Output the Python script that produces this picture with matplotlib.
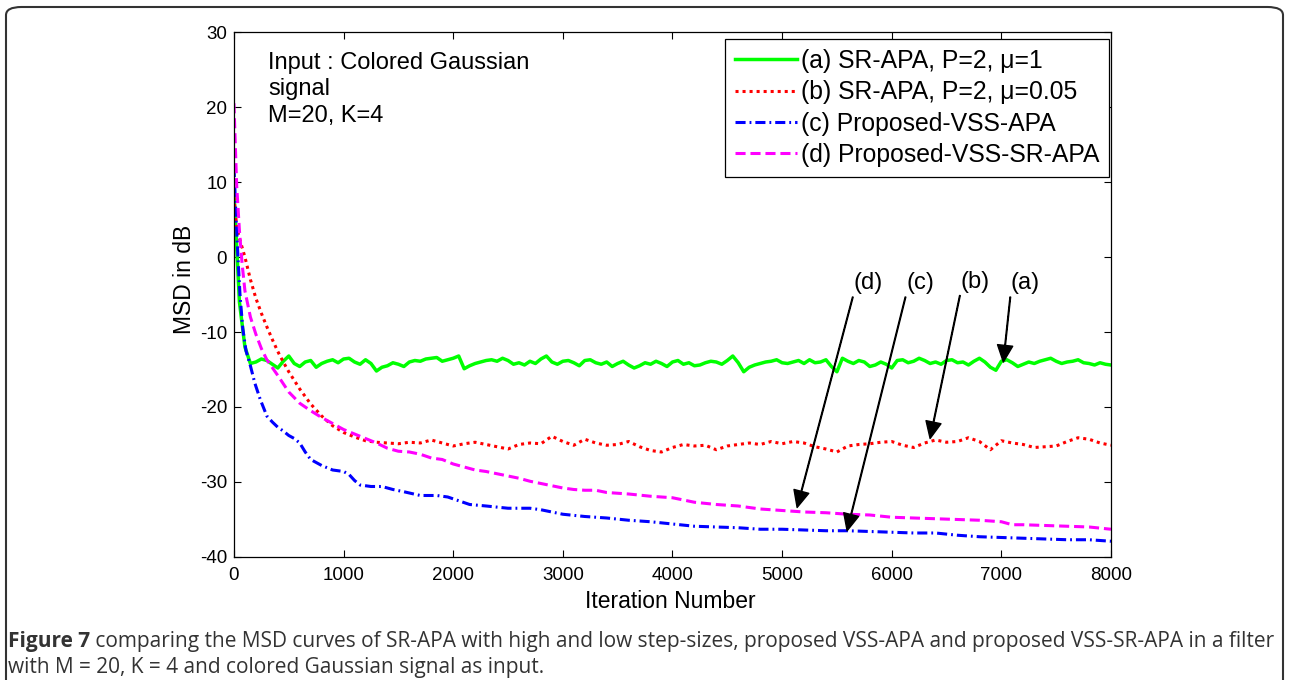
import matplotlib
matplotlib.use("Agg")
import matplotlib.pyplot as plt
from matplotlib.patches import FancyBboxPatch
import numpy as np

plt.rcParams['font.family'] = ['Liberation Sans', 'DejaVu Sans']
plt.rcParams['axes.unicode_minus'] = False

# (a) SR-APA, P=2, mu=1  -- sampled every 50 iterations
it_a = np.arange(0, 8001, 50)
msd_a = [8.5, -6.0, -12.0, -14.2, -14.0, -13.6, -13.8, -14.3, -14.8, -13.9,
         -13.2, -14.2, -14.6, -14.0, -13.8, -14.7, -14.2, -13.9, -13.7, -14.1,
         -13.6, -13.5, -14.0, -14.3, -13.7, -14.2, -15.2, -14.7, -14.5, -14.1,
         -14.3, -14.6, -14.0, -13.8, -13.9, -13.6, -13.5, -13.4, -13.9, -13.7,
         -13.5, -13.2, -14.9, -14.5, -14.2, -14.0, -13.8, -13.7, -13.9, -13.5,
         -13.8, -14.3, -14.1, -14.4, -13.9, -14.2, -13.6, -13.2, -14.0, -14.3,
         -13.9, -13.8, -14.1, -14.5, -13.8, -13.7, -14.1, -14.3, -14.0, -14.6,
         -14.2, -13.9, -14.4, -14.8, -14.5, -14.1, -14.3, -13.9, -14.2, -14.6,
         -14.0, -13.8, -14.3, -14.1, -14.5, -14.4, -14.1, -13.9, -14.0, -14.3,
         -13.8, -13.2, -14.1, -15.3, -14.7, -14.4, -14.2, -14.0, -13.9, -13.7,
         -14.1, -14.2, -14.0, -13.8, -14.2, -13.7, -14.1, -14.0, -13.7, -14.6,
         -15.3, -13.5, -13.9, -14.2, -13.8, -14.0, -14.6, -14.4, -14.0, -14.3,
         -14.8, -13.8, -13.7, -14.1, -13.9, -13.5, -13.8, -14.2, -14.0, -14.3,
         -13.8, -13.7, -14.1, -14.0, -14.4, -13.9, -13.5, -14.0, -14.7, -15.1,
         -13.9, -13.7, -14.1, -14.6, -14.3, -14.0, -14.2, -13.9, -13.7, -13.5,
         -13.9, -14.2, -14.0, -13.9, -13.7, -14.1, -14.2, -14.4, -14.1, -14.3,
         -14.4]

# (b) SR-APA, P=2, mu=0.05
it_b = [0, 25, 50, 100, 150, 200, 250, 300, 350, 400, 450, 500, 600, 700, 800,
        900, 1000, 1100, 1200, 1300, 1400, 1500, 1600, 1700, 1800, 1900, 2000,
        2100, 2200, 2300, 2400, 2500, 2600, 2700, 2800, 2900, 3000, 3100, 3200,
        3300, 3400, 3500, 3600, 3700, 3800, 3900, 4000, 4100, 4200, 4300, 4400,
        4500, 4600, 4700, 4800, 4900, 5000, 5100, 5200, 5300, 5400, 5500, 5600,
        5700, 5800, 5900, 6000, 6100, 6200, 6300, 6400, 6500, 6600, 6700, 6800,
        6900, 7000, 7100, 7200, 7300, 7400, 7500, 7600, 7700, 7800, 7900, 8000]
msd_b = [8.0, 4.0, 2.5, 0.0, -3.0, -5.5, -7.5, -9.3, -11.0, -12.6, -14.0, -15.3,
         -17.6, -19.6, -21.2, -22.5, -23.4, -24.0, -24.5, -24.7, -24.8, -24.9,
         -24.7, -24.8, -24.4, -24.8, -25.2, -24.9, -24.7, -25.0, -25.3, -25.6,
         -25.0, -24.8, -24.9, -23.9, -24.6, -25.1, -24.3, -24.8, -25.1, -25.0,
         -24.6, -25.3, -25.8, -26.0, -25.4, -25.0, -25.2, -25.1, -25.7, -25.2,
         -25.0, -24.8, -25.0, -24.6, -24.9, -24.6, -24.8, -25.3, -25.6, -26.0,
         -25.2, -25.0, -24.9, -24.7, -24.6, -25.1, -25.4, -24.8, -24.4, -24.7,
         -24.6, -24.1, -24.6, -25.7, -24.5, -24.8, -25.0, -25.4, -25.3, -25.2,
         -24.6, -24.1, -24.3, -24.8, -25.1]

# (c) Proposed-VSS-APA
it_c = [0, 20, 40, 55, 80, 110, 150, 190, 240, 300, 350, 400, 450, 500, 550,
        600, 650, 700, 800, 900, 1000, 1050, 1100, 1150, 1250, 1350, 1450, 1550,
        1700, 1850, 1950, 2050, 2150, 2300, 2500, 2700, 2800, 2900, 3000, 3200,
        3400, 3600, 3800, 4000, 4200, 4400, 4600, 4800, 5000, 5200, 5400, 5600,
        5800, 6000, 6200, 6400, 6600, 6800, 7000, 7200, 7400, 7600, 7800, 8000]
msd_c = [12.0, 5.0, -1.0, -5.0, -9.5, -12.5, -14.5, -16.8, -19.0, -21.2, -22.0,
         -22.7, -23.2, -23.8, -24.2, -24.8, -26.0, -27.0, -27.8, -28.4, -28.6,
         -29.0, -29.8, -30.4, -30.6, -30.6, -31.0, -31.3, -31.8, -31.8, -32.0,
         -32.5, -33.0, -33.2, -33.5, -33.5, -33.7, -34.0, -34.3, -34.6, -34.8,
         -35.1, -35.3, -35.6, -35.9, -36.0, -36.1, -36.3, -36.3, -36.4, -36.5,
         -36.5, -36.6, -36.7, -36.8, -36.8, -37.1, -37.3, -37.4, -37.5, -37.6,
         -37.7, -37.7, -37.9]

# (d) Proposed-VSS-SR-APA
it_d = [0, 10, 25, 50, 75, 100, 150, 200, 250, 300, 400, 500, 600, 700, 800,
        900, 1000, 1100, 1200, 1300, 1400, 1500, 1600, 1700, 1800, 1900, 2000,
        2100, 2200, 2300, 2400, 2500, 2600, 2700, 2800, 2900, 3000, 3100, 3200,
        3300, 3400, 3600, 3800, 4000, 4200, 4400, 4600, 4800, 5000, 5200, 5400,
        5600, 5800, 6000, 6200, 6400, 6600, 6800, 7000, 7100, 7200, 7400, 7600,
        7800, 8000]
msd_d = [20.5, 16.0, 9.5, 3.5, -1.0, -4.5, -8.0, -10.3, -12.2, -13.7, -15.8,
         -18.0, -19.5, -20.5, -21.4, -22.2, -23.0, -23.6, -24.2, -24.8, -25.5,
         -25.9, -26.0, -26.3, -26.8, -27.0, -27.6, -28.0, -28.4, -28.6, -28.9,
         -29.2, -29.5, -29.9, -30.2, -30.5, -30.8, -31.0, -31.1, -31.1, -31.4,
         -31.6, -31.9, -32.1, -32.7, -33.0, -33.2, -33.6, -33.8, -34.0, -34.1,
         -34.3, -34.4, -34.7, -34.8, -34.9, -35.0, -35.1, -35.3, -35.7, -35.7,
         -35.8, -35.9, -36.0, -36.3]

labels = ['(a) SR-APA, P=2, \u03bc=1', '(b) SR-APA, P=2, \u03bc=0.05',
          '(c) Proposed-VSS-APA', '(d) Proposed-VSS-SR-APA']

# arrow annotations: label, text position, arrow tip
notes = [('(d)', (5785, -3.5), (5137, -33.4)),
         ('(c)', (6259, -3.5), (5593, -36.5)),
         ('(b)', (6760, -3.3), (6350, -24.2)),
         ('(a)', (7217, -3.5), (7018, -14.0))]

fig = plt.figure(figsize=(12.89, 6.8), dpi=100)
ax = fig.add_axes([0.1815, 0.1809, 0.6804, 0.7720])

lw = 2.2
ax.plot(it_a, msd_a, color='#00ff00', lw=2.5, ls='-', label=labels[0])
ax.plot(it_b, msd_b, color='#ff0000', lw=lw, ls=(0, (1.0, 1.3)), label=labels[1])
ax.plot(it_c, msd_c, color='#0000ff', lw=lw, ls=(0, (3.3, 1.3, 0.6, 1.3)), label=labels[2])
ax.plot(it_d, msd_d, color='#ff00ff', lw=lw, ls=(0, (3.3, 1.6)), label=labels[3])

ax.set_xlim(0, 8000)
ax.set_ylim(-40, 30)
ax.set_xticks(np.arange(0, 8001, 1000))
ax.set_yticks(np.arange(-40, 31, 10))
ax.tick_params(direction='in', length=5, width=0.8, labelsize=13.5,
               top=True, right=True)
ax.tick_params(axis='x', pad=7)
ax.tick_params(axis='y', pad=5)
for s in ax.spines.values():
    s.set_linewidth(0.9)

ax.set_xlabel('Iteration Number', fontsize=16.5)
ax.set_ylabel('MSD in dB', fontsize=16.5)
ax.xaxis.set_label_coords(0.498, -0.084)
ax.xaxis.label.set_va('center')
ax.yaxis.set_label_coords(-0.056, 0.528)
ax.yaxis.label.set_va('center')

leg = ax.legend(loc='upper right', bbox_to_anchor=(0.9977, 0.9867),
                borderaxespad=0, fontsize=17.8, handlelength=2.5,
                handletextpad=0.15, labelspacing=0.3, borderpad=0.4,
                fancybox=False, framealpha=1, edgecolor='black')
leg.get_frame().set_linewidth(0.9)

ax.text(310, 27.4, 'Input : Colored Gaussian\nsignal\nM=20, K=4',
        fontsize=17, va='top', ha='left', linespacing=1.28)

for txt, pos, tip in notes:
    ax.annotate(txt, xy=tip, xytext=pos, fontsize=17, ha='center', va='center',
                arrowprops=dict(facecolor='black', edgecolor='black', width=0.5,
                                headwidth=11, headlength=12, shrink=0))

# caption below the chart
cap = dict(family=['Open Sans', 'DejaVu Sans'], fontsize=15.0, color='#333333')
t1 = fig.text(8 / 1289, 1 - 642 / 680, 'Figure 7', weight='bold', va='center', **cap)
ax.annotate(' comparing the MSD curves of SR-APA with high and low step-sizes, '
            'proposed VSS-APA and proposed VSS-SR-APA in a filter',
            xy=(1, 0), xycoords=t1, va='bottom', ha='left',
            annotation_clip=False, **cap)
fig.text(8 / 1289, 1 - 668 / 680,
         'with M = 20, K = 4 and colored Gaussian signal as input.',
         va='center', **cap)

# rounded frame around the figure
frame = FancyBboxPatch((6 / 1289, -0.05), 1277 / 1289, 1.05 - 7 / 680,
                       boxstyle='round,pad=0,rounding_size=0.012',
                       transform=fig.transFigure, fill=False,
                       edgecolor='#333333', lw=1.5)
fig.patches.append(frame)

fig.savefig('out.png', dpi=100)
